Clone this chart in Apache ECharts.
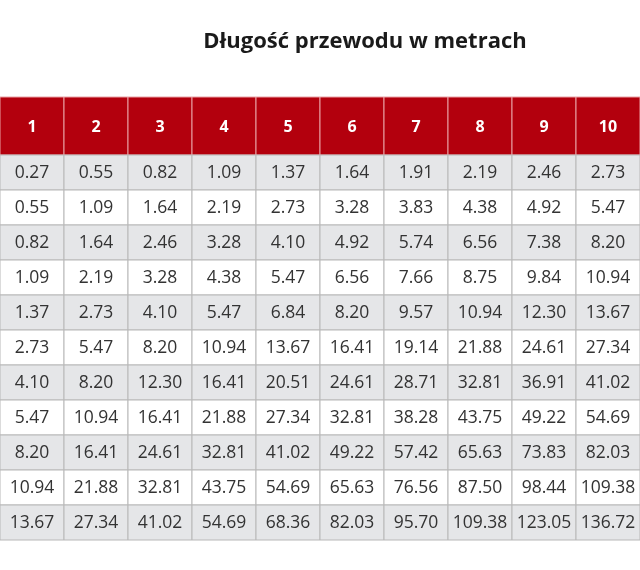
<!DOCTYPE html>
<html><head><meta charset="utf-8">
<script src="https://cdn.jsdelivr.net/npm/echarts@6/dist/echarts.min.js"></script>
<style>html,body{margin:0;padding:0;background:#fff}#c{width:640px;height:570px}</style>
</head><body><div id="c"></div>
<script>
const title = "Długość przewodu w metrach";
const headers = ["1","2","3","4","5","6","7","8","9","10"];
const row1 = ["0.27","0.55","0.82","1.09","1.37","1.64","1.91","2.19","2.46","2.73"];
const row2 = ["0.55","1.09","1.64","2.19","2.73","3.28","3.83","4.38","4.92","5.47"];
const row3 = ["0.82","1.64","2.46","3.28","4.10","4.92","5.74","6.56","7.38","8.20"];
const row4 = ["1.09","2.19","3.28","4.38","5.47","6.56","7.66","8.75","9.84","10.94"];
const row5 = ["1.37","2.73","4.10","5.47","6.84","8.20","9.57","10.94","12.30","13.67"];
const row6 = ["2.73","5.47","8.20","10.94","13.67","16.41","19.14","21.88","24.61","27.34"];
const row7 = ["4.10","8.20","12.30","16.41","20.51","24.61","28.71","32.81","36.91","41.02"];
const row8 = ["5.47","10.94","16.41","21.88","27.34","32.81","38.28","43.75","49.22","54.69"];
const row9 = ["8.20","16.41","24.61","32.81","41.02","49.22","57.42","65.63","73.83","82.03"];
const row10 = ["10.94","21.88","32.81","43.75","54.69","65.63","76.56","87.50","98.44","109.38"];
const row11 = ["13.67","27.34","41.02","54.69","68.36","82.03","95.70","109.38","123.05","136.72"];
const rows = [row1,row2,row3,row4,row5,row6,row7,row8,row9,row10,row11];

const H = 58/35; // header height in row units
const data = [];
headers.forEach((h,c)=>data.push([c, 0, H, h, -1]));
rows.forEach((r,ri)=>r.forEach((v,c)=>data.push([c, H+ri, H+ri+1, v, ri])));

const chart = echarts.init(document.getElementById('c'));
chart.setOption({
  animation:false,
  graphic:[{type:'text',x:365,y:42,style:{text:title,align:'center',verticalAlign:'middle',
    fontFamily:'Open Sans',fontWeight:'bold',fontSize:22,fill:'#1a1a1a'}}],
  grid:{left:-4,right:-4,top:97,bottom:30},
  xAxis:{type:'value',min:0,max:10,show:false},
  yAxis:{type:'value',min:0,max:11+H,inverse:true,show:false},
  series:[{
    type:'custom',
    data:data,
    renderItem:function(params,api){
      const c=api.value(0), y0=api.value(1), y1=api.value(2), ri=api.value(4);
      const txt=data[params.dataIndex][3];
      const p0=api.coord([c,y0]), p1=api.coord([c+1,y1]);
      const isHead = ri<0;
      const fill = isHead ? '#b3000d' : (ri%2===0 ? '#e5e6e8' : '#ffffff');
      return {type:'group',children:[
        {type:'rect',shape:{x:p0[0],y:p0[1],width:p1[0]-p0[0],height:p1[1]-p0[1]},
          style:{fill:fill,stroke:isHead?'#e9a0a4':'#b8b8b8',lineWidth:1}},
        {type:'text',x:(p0[0]+p1[0])/2,y:(p0[1]+p1[1])/2+1,
          style:{text:txt,align:'center',verticalAlign:'middle',
            fontFamily:'Open Sans',fontSize:isHead?16:17.5,fontWeight:isHead?'bold':'normal',
            fill:isHead?'#ffffff':'#333333'}}
      ]};
    }
  }]
});
</script></body></html>
